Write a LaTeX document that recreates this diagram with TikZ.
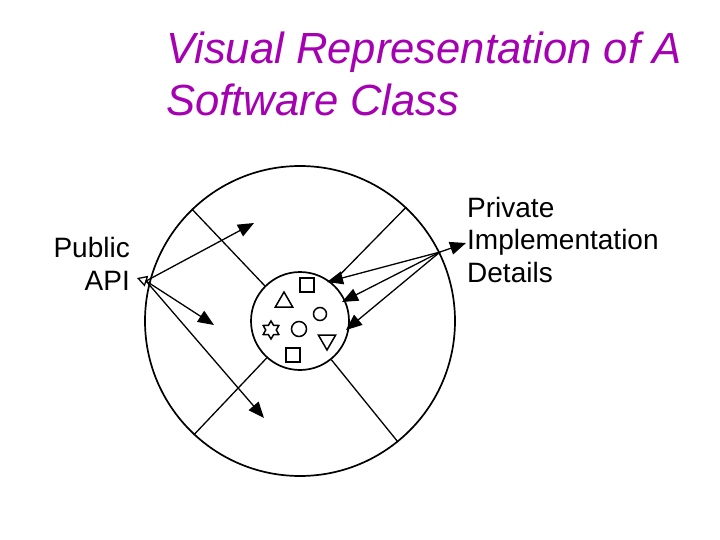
\documentclass[tikz,border=0pt]{standalone}
\usepackage{fontspec}
\setmainfont{Liberation Sans}
\usetikzlibrary{shapes.geometric,arrows.meta}
\definecolor{titlepurple}{RGB}{165,0,178}
\tikzset{
  conn/.style={line width=1.3pt},
  arr/.style={conn,-{Triangle[length=16pt,width=13pt]}},
  ring/.style={draw,circle,line width=1.7pt,inner sep=0pt},
  glyph/.style={draw,line width=1.5pt,inner sep=0pt},
  lbl/.style={inner sep=0pt,font=\fontsize{28}{32.5}\selectfont},
}
\begin{document}
\begin{tikzpicture}[x=1pt,y=-1pt]
\useasboundingbox[fill=white] (0,0) rectangle (720,540);
% title
\node[anchor=base west,inner sep=0pt,align=left,text=titlepurple,
      font=\fontsize{43.6}{52}\selectfont\itshape] (title) at (166,116)
  {Visual Representation of A\\Software Class};
% circles
\node[ring,minimum size=310pt] (outer) at (300,321) {};
\node[ring,minimum size=98pt] (inner) at (300,321) {};
% spokes
\draw[conn] (inner.135) -- (outer.134);
\draw[conn] (inner.50) -- (outer.47);
\draw[conn] (inner.228) -- (outer.227);
\draw[conn] (inner.309) -- (outer.309);
% glyphs inside inner circle
\node[glyph,rectangle,minimum size=14pt] (sq1) at (307,285) {};
\node[glyph,regular polygon,regular polygon sides=3,minimum size=20pt] (tri1) at (284,302) {};
\node[glyph,circle,minimum size=13pt] (c1) at (320,314) {};
\node[glyph,star,star points=6,star point ratio=1.7,minimum size=18pt] (st) at (271,330) {};
\node[glyph,circle,minimum size=15pt] (c2) at (299,329) {};
\node[glyph,regular polygon,regular polygon sides=3,shape border rotate=180,minimum size=20pt] (tri2) at (327,340) {};
\node[glyph,rectangle,minimum size=14pt] (sq2) at (293,355) {};
% labels
\node[lbl,anchor=base east,align=right] (pub) at (130,290) {Public\\API};
\node[lbl,anchor=base west,align=left] (priv) at (467,282) {Private\\Implementation\\Details};
% arrow sources and targets
\coordinate (ps) at (146,281);
\coordinate (qs) at (440,252);
\coordinate (p1) at (254,223);
\coordinate (p2) at (214,325);
\coordinate (p3) at (264,418);
\coordinate (q1) at (327,282);
\coordinate (q2) at (342,302);
\coordinate (q3) at (346,330);
\draw[conn,-{Triangle[open,length=10pt,width=11pt]}] (ps) -- (137,278);
\draw[arr] (ps) -- (p1);
\draw[arr] (ps) -- (p2);
\draw[arr] (ps) -- (p3);
\draw[arr] (qs) -- (466,243);
\draw[arr] (qs) -- (q1);
\draw[arr] (qs) -- (q2);
\draw[arr] (qs) -- (q3);
\end{tikzpicture}
\end{document}
